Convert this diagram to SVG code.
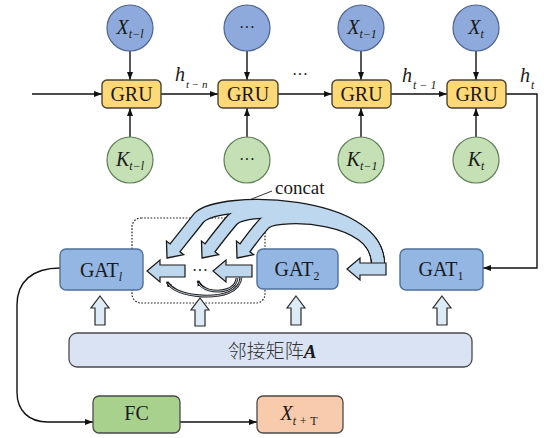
<svg xmlns="http://www.w3.org/2000/svg" width="547" height="438" viewBox="0 0 547 438">
  <defs>
    <marker id="ah" markerWidth="8" markerHeight="6" refX="8" refY="3" orient="auto" markerUnits="userSpaceOnUse">
      <path d="M0,0 L8,3 L0,6 Z" fill="#111"/>
    </marker>
    <marker id="ahs" markerWidth="6" markerHeight="5" refX="5" refY="2.5" orient="auto" markerUnits="userSpaceOnUse">
      <path d="M0,0 L6,2.5 L0,5 Z" fill="#111"/>
    </marker>
    <linearGradient id="ribShade" gradientUnits="userSpaceOnUse" x1="310" y1="0" x2="384" y2="0">
      <stop offset="0" stop-color="#BDD7EE"/>
      <stop offset="0.55" stop-color="#AABFD4"/>
      <stop offset="1" stop-color="#9BB0C6"/>
    </linearGradient>
  </defs>
  <style>
    .serif { font-family: "Liberation Serif", "Times New Roman", serif; fill: #1a1a1a; }
    .it { font-style: italic; }
    .gru rect { fill: #FFD978; stroke: #4a4330; stroke-width: 1.4; }
    .xin circle { fill: #8EAADC; stroke: #4D6390; stroke-width: 1.2; }
    .kin circle { fill: #C5E0B4; stroke: #5E7F55; stroke-width: 1.2; }
    .gat rect { fill: #94B6E2; stroke: #4F709C; stroke-width: 1.4; }
    .wire { fill: none; stroke: #111; stroke-width: 1.4; }
    .blk { fill: #BDD7EE; stroke: #1a1a1a; stroke-width: 1.2; stroke-linejoin: miter; }
    .up { fill: #DDEBF7; stroke: #2a2a2a; stroke-width: 1.2; }
    .rib-out { fill: none; stroke: #1a1a1a; stroke-width: 14; }
    .rib-in { fill: none; stroke: #BDD7EE; stroke-width: 11.4; }
    .head { fill: #BDD7EE; stroke: #1a1a1a; stroke-width: 1.3; stroke-linejoin: miter; }
    .thin-out { fill: none; stroke: #1a1a1a; stroke-width: 2.8; }
    .thin-in { fill: none; stroke: #C9D8EA; stroke-width: 0.9; }
  </style>
  <rect width="547" height="438" fill="#ffffff"/>

  <!-- connectors -->
  <g id="connectors">
    <!-- recurrent chain -->
    <line class="wire" x1="32" y1="94" x2="102" y2="94" marker-end="url(#ah)"/>
    <line class="wire" x1="161" y1="94" x2="218" y2="94" marker-end="url(#ah)"/>
    <line class="wire" x1="278" y1="94" x2="332" y2="94" marker-end="url(#ah)"/>
    <line class="wire" x1="391" y1="94" x2="447" y2="94" marker-end="url(#ah)"/>
    <!-- inputs into GRU cells -->
    <line class="wire" x1="130" y1="51" x2="130" y2="80" marker-end="url(#ah)"/>
    <line class="wire" x1="247" y1="51" x2="247" y2="80" marker-end="url(#ah)"/>
    <line class="wire" x1="361" y1="51" x2="361" y2="80" marker-end="url(#ah)"/>
    <line class="wire" x1="476" y1="51" x2="476" y2="80" marker-end="url(#ah)"/>
    <line class="wire" x1="130" y1="137" x2="130" y2="108" marker-end="url(#ah)"/>
    <line class="wire" x1="247" y1="137" x2="247" y2="108" marker-end="url(#ah)"/>
    <line class="wire" x1="361" y1="137" x2="361" y2="108" marker-end="url(#ah)"/>
    <line class="wire" x1="476" y1="137" x2="476" y2="108" marker-end="url(#ah)"/>
    <!-- h_t down to GAT_1 -->
    <path class="wire" d="M506,94 L537,94 L537,268 L483,268" marker-end="url(#ah)"/>
    <!-- GAT_l to FC, FC to output -->
    <path class="wire" d="M60,268 C32,268 17,282 17,305 L17,392 C17,411 29,422 48,422 L93,422" marker-end="url(#ah)"/>
    <line class="wire" x1="180" y1="422" x2="257" y2="422" marker-end="url(#ah)"/>

    <!-- concat label leader -->
    <line x1="272" y1="191" x2="201" y2="219" stroke="#333" stroke-width="1"/>
    <!-- concat region -->
    <rect x="132" y="218" width="133" height="85" rx="9" fill="none" stroke="#222" stroke-width="1.2" stroke-dasharray="1.6 1.6"/>

    <!-- curved ribbon arrows -->
    <path class="rib-out" d="M378,264 C378,214 280,212 265.2,222.5 Q258,230 244.1,249"/>
    <path class="rib-out" d="M378,264 C378,206 250,204 232.7,219.4 Q222,232 209.1,249"/>
    <path class="rib-out" d="M378,264 C378,200 220,196 198.9,217.8 Q186,234 174.1,249"/>
    <polygon class="head" points="237,258 253.64,254.68 236.48,241.04"/>
    <polygon class="head" points="202,258 218.64,254.68 201.48,241.04"/>
    <polygon class="head" points="167,258 183.64,254.68 166.48,241.04"/>
    <path class="rib-in" d="M378,264 C378,214 280,212 265.2,222.5 Q258,230 244.1,249"/>
    <path class="rib-in" d="M378,264 C378,206 250,204 232.7,219.4 Q222,232 209.1,249"/>
    <path class="rib-in" d="M378,264 C378,200 220,196 198.9,217.8 Q186,234 174.1,249" stroke="url(#ribShade)"/>

    <!-- horizontal block arrows -->
    <path class="blk" d="M147,271 L160,260 L160,265 L185,265 L185,277 L160,277 L160,282 Z"/>
    <path class="blk" d="M213,271 L226,260 L226,265 L252,265 L252,277 L226,277 L226,282 Z"/>
    <path class="blk" d="M347,269 L360,258 L360,263 L386,263 L386,275 L360,275 L360,280 Z"/>

    <!-- small curved arrows under the stack -->
    <path class="thin-out" d="M241,277 C240,292 222,297 202,296 C186,295 173,291 167,282" marker-end="url(#ahs)"/>
    <path class="thin-in" d="M241,277 C240,292 222,297 202,296 C186,295 173,291 168,283.5"/>
    <path class="thin-out" d="M237,278 C236,290 220,293 209,290 C203,288 200,286 198,281" marker-end="url(#ahs)"/>
    <path class="thin-in" d="M237,278 C236,290 220,293 209,290 C203,288 200,286 198.7,283"/>

    <!-- adjacency inputs -->
    <path class="up" d="M100,296 L109,308 L105,308 L105,325 L95,325 L95,308 L91,308 Z"/>
    <path class="up" d="M200,298 L209,310 L205,310 L205,326 L195,326 L195,310 L191,310 Z"/>
    <path class="up" d="M296,296 L305,308 L301,308 L301,325 L291,325 L291,308 L287,308 Z"/>
    <path class="up" d="M442,296 L451,308 L447,308 L447,325 L437,325 L437,308 L433,308 Z"/>
  </g>

  <!-- edge labels -->
  <g id="labels" class="serif">
    <text class="serif it" x="175" y="81" font-size="20">h</text>
    <text class="serif it" x="186" y="88" font-size="11">t − n</text>
    <text class="serif" x="300" y="80" font-size="16" text-anchor="middle">···</text>
    <text class="serif it" x="402" y="82" font-size="20">h</text>
    <text class="serif it" x="413" y="89" font-size="12">t − 1</text>
    <text class="serif it" x="520" y="82" font-size="20">h</text>
    <text class="serif it" x="531" y="89" font-size="12">t</text>
    <text class="serif" x="275" y="194" font-size="19">concat</text>
    <text class="serif" x="200" y="276" font-size="16" text-anchor="middle">···</text>
  </g>

  <!-- GRU cells -->
  <g id="gru1" class="gru"><rect x="102" y="80" width="59" height="28" rx="5"/><text class="serif" x="131.5" y="101" font-size="20" text-anchor="middle">GRU</text></g>
  <g id="gru2" class="gru"><rect x="218" y="80" width="60" height="28" rx="5"/><text class="serif" x="248" y="101" font-size="20" text-anchor="middle">GRU</text></g>
  <g id="gru3" class="gru"><rect x="332" y="80" width="59" height="28" rx="5"/><text class="serif" x="361.5" y="101" font-size="20" text-anchor="middle">GRU</text></g>
  <g id="gru4" class="gru"><rect x="447" y="80" width="59" height="28" rx="5"/><text class="serif" x="476.5" y="101" font-size="20" text-anchor="middle">GRU</text></g>

  <!-- feature inputs X -->
  <g id="x1" class="xin"><circle cx="130" cy="28" r="23"/><text class="serif it" x="130" y="34" font-size="20" text-anchor="middle">X<tspan font-size="12" dy="4">t−l</tspan></text></g>
  <g id="x2" class="xin"><circle cx="247" cy="28" r="23"/><text class="serif" x="247" y="33" font-size="16" text-anchor="middle">···</text></g>
  <g id="x3" class="xin"><circle cx="361" cy="28" r="23"/><text class="serif it" x="362" y="34" font-size="20" text-anchor="middle">X<tspan font-size="12" dy="4">t−1</tspan></text></g>
  <g id="x4" class="xin"><circle cx="476" cy="28" r="23"/><text class="serif it" x="476" y="34" font-size="20" text-anchor="middle">X<tspan font-size="12" dy="4">t</tspan></text></g>

  <!-- knowledge inputs K -->
  <g id="k1" class="kin"><circle cx="130" cy="160" r="23"/><text class="serif it" x="130" y="166" font-size="20" text-anchor="middle">K<tspan font-size="12" dy="4">t−l</tspan></text></g>
  <g id="k2" class="kin"><circle cx="247" cy="160" r="23"/><text class="serif" x="247" y="165" font-size="16" text-anchor="middle">···</text></g>
  <g id="k3" class="kin"><circle cx="361" cy="160" r="23"/><text class="serif it" x="362" y="166" font-size="20" text-anchor="middle">K<tspan font-size="12" dy="4">t−1</tspan></text></g>
  <g id="k4" class="kin"><circle cx="476" cy="160" r="23"/><text class="serif it" x="476" y="166" font-size="20" text-anchor="middle">K<tspan font-size="12" dy="4">t</tspan></text></g>

  <!-- GAT layers -->
  <g id="gat-l" class="gat"><rect x="60" y="249" width="83" height="41" rx="6"/><text class="serif" x="101" y="277" font-size="20" text-anchor="middle">GAT<tspan class="it" font-size="12" dy="4">l</tspan></text></g>
  <g id="gat-2" class="gat"><rect x="257" y="249" width="81" height="40" rx="6"/><text class="serif" x="297" y="276" font-size="20" text-anchor="middle">GAT<tspan font-size="12" dy="4">2</tspan></text></g>
  <g id="gat-1" class="gat"><rect x="400" y="249" width="83" height="41" rx="6"/><text class="serif" x="441" y="276" font-size="20" text-anchor="middle">GAT<tspan font-size="12" dy="4">1</tspan></text></g>

  <!-- adjacency matrix -->
  <g id="adjacency">
    <rect x="69" y="333" width="403" height="34" rx="8" fill="#DAE3F3" stroke="#4a4a4a" stroke-width="1.3"/>
    <text x="272" y="358" font-size="19" text-anchor="middle" fill="#333" style="font-family: 'Noto Sans CJK SC', 'Noto Sans', sans-serif; font-weight: 300;">邻接矩阵<tspan style="font-family: 'Liberation Serif', serif; font-weight: bold; font-style: italic;" fill="#1a1a1a">A</tspan></text>
  </g>

  <!-- output head -->
  <g id="fc"><rect x="93" y="396" width="87" height="37" rx="6" fill="#A9D18E" stroke="#4a4a4a" stroke-width="1.3"/><text class="serif" x="136.5" y="420" font-size="20" text-anchor="middle">FC</text></g>
  <g id="output"><rect x="257" y="396" width="86" height="37" rx="6" fill="#F8CBAD" stroke="#4a4a4a" stroke-width="1.3"/><text class="serif it" x="299" y="420" font-size="20" text-anchor="middle">X<tspan font-size="12" dy="5">t + </tspan><tspan font-size="12" font-style="normal">T</tspan></text></g>
</svg>
